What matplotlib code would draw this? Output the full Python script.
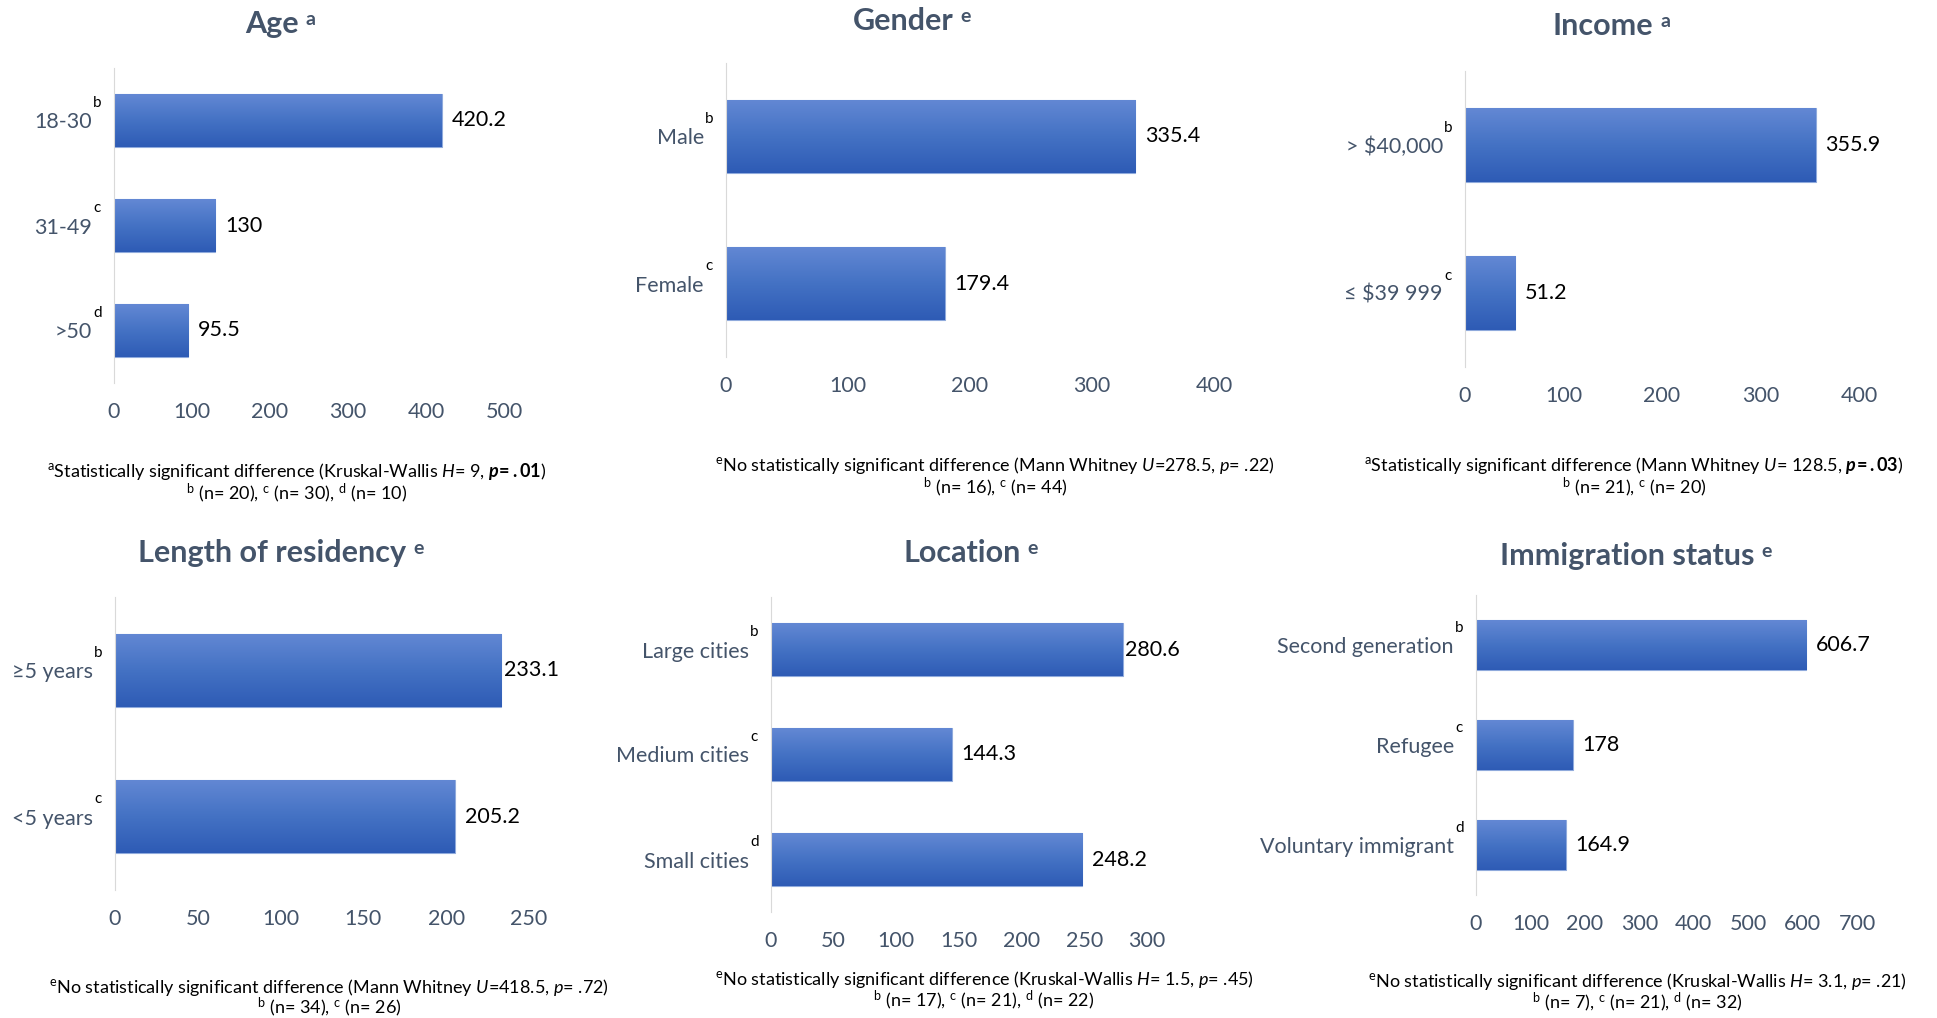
import numpy as np
import matplotlib.pyplot as plt
import matplotlib.transforms as mtransforms
from matplotlib.colors import LinearSegmentedColormap

plt.rcParams['font.family'] = 'Lato'
plt.rcParams['mathtext.fontset'] = 'custom'
plt.rcParams['mathtext.rm'] = 'Lato'
plt.rcParams['mathtext.it'] = 'Lato:italic'
plt.rcParams['mathtext.bf'] = 'Lato:bold'
plt.rcParams['mathtext.bfit'] = 'Lato:italic:bold'

# Donnees par variable
age_labels = ['18-30', '31-49', '>50']
age_sups = ['b', 'c', 'd']
age_values = [420.2, 130, 95.5]

gender_labels = ['Male', 'Female']
gender_sups = ['b', 'c']
gender_values = [335.4, 179.4]

income_labels = ['> $40,000', '≤ $39 999']
income_sups = ['b', 'c']
income_values = [355.9, 51.2]

residency_labels = ['≥5 years', '<5 years']
residency_sups = ['b', 'c']
residency_values = [233.1, 205.2]

location_labels = ['Large cities', 'Medium cities', 'Small cities']
location_sups = ['b', 'c', 'd']
location_values = [280.6, 144.3, 248.2]

status_labels = ['Second generation', 'Refugee', 'Voluntary immigrant']
status_sups = ['b', 'c', 'd']
status_values = [606.7, 178, 164.9]

W, H = 1937, 1018
fig = plt.figure(figsize=(W / 100, H / 100), dpi=100)

SLATE = '#44546A'
grad_cmap = LinearSegmentedColormap.from_list('barre', ['#6388D4', '#4472C4', '#2E5BB5'])
grad = np.linspace(0, 1, 256).reshape(-1, 1)

# (titre, exposant, labels, exposants, valeurs, xmax, pas, boite px, centre titre, notes)
panels = [
    ('Age', 'a', age_labels, age_sups, age_values, 500, 100,
     (114, 68, 504, 383), (272, 33),
     (297, 472, 493,
      r'$^{\mathrm{a}}$Statistically significant difference (Kruskal-Wallis $H$= 9, $\mathbfit{p}\!\mathbf{=.01}$)',
      r'$^{\mathrm{b}}$ (n= 20), $^{\mathrm{c}}$ (n= 30), $^{\mathrm{d}}$ (n= 10)')),
    ('Gender', 'e', gender_labels, gender_sups, gender_values, 400, 100,
     (726, 63, 1214, 357), (903, 30),
     (995, 466, 487,
      r'$^{\mathrm{e}}$No statistically significant difference (Mann Whitney $U$=278.5, $p$= .22)',
      r'$^{\mathrm{b}}$ (n= 16), $^{\mathrm{c}}$ (n= 44)')),
    ('Income', 'a', income_labels, income_sups, income_values, 400, 100,
     (1465, 71, 1859, 367), (1603, 35),
     (1634, 466, 487,
      r'$^{\mathrm{a}}$Statistically significant difference (Mann Whitney $U$= 128.5, $\mathbfit{p}\!\mathbf{=.03}$)',
      r'$^{\mathrm{b}}$ (n= 21), $^{\mathrm{c}}$ (n= 20)')),
    ('Length of residency', 'e', residency_labels, residency_sups, residency_values, 250, 50,
     (115, 597, 529, 890), (272, 562),
     (329, 987, 1007,
      r'$^{\mathrm{e}}$No statistically significant difference (Mann Whitney $U$=418.5, $p$= .72)',
      r'$^{\mathrm{b}}$ (n= 34), $^{\mathrm{c}}$ (n= 26)')),
    ('Location', 'e', location_labels, location_sups, location_values, 300, 50,
     (771, 597, 1147, 912), (962, 562),
     (984, 980, 1000,
      r'$^{\mathrm{e}}$No statistically significant difference (Kruskal-Wallis $H$= 1.5, $p$= .45)',
      r'$^{\mathrm{b}}$ (n= 17), $^{\mathrm{c}}$ (n= 21), $^{\mathrm{d}}$ (n= 22)')),
    ('Immigration status', 'e', status_labels, status_sups, status_values, 700, 100,
     (1476, 595, 1857, 895), (1627, 565),
     (1637, 982, 1002,
      r'$^{\mathrm{e}}$No statistically significant difference (Kruskal-Wallis $H$= 3.1, $p$= .21)',
      r'$^{\mathrm{b}}$ (n= 7), $^{\mathrm{c}}$ (n= 21), $^{\mathrm{d}}$ (n= 32)')),
]

for title, tsup, labels, sups, values, xmax, step, box, tpos, notes in panels:
    l, t, r, b = box
    ax = fig.add_axes([l / W, 1 - b / H, (r - l) / W, (b - t) / H])
    y = np.arange(len(values))
    bars = ax.barh(y, values, height=0.5, color='#4472C4', edgecolor='#8FAADC', linewidth=0.8, zorder=2)

    # degrade vertical dans chaque barre
    for rect, v, yi in zip(bars, values, y):
        im = ax.imshow(grad, cmap=grad_cmap, aspect='auto', origin='upper',
                       extent=[0, v, yi + 0.25, yi - 0.25], zorder=2.5)
        im.set_clip_path(rect)

    ax.set_xlim(0, xmax)
    ax.set_ylim(len(values) - 0.5, -0.5)
    ax.set_xticks(np.arange(0, xmax + step, step))
    ax.set_yticks(y)
    ax.set_yticklabels(labels)
    ax.tick_params(length=0, labelsize=15.5, labelcolor=SLATE)
    ax.tick_params(axis='x', pad=14)
    ax.tick_params(axis='y', pad=16)
    for side in ['top', 'right', 'bottom']:
        ax.spines[side].set_visible(False)
    ax.spines['left'].set_color('#D9D9D9')

    # exposants des categories
    trans = mtransforms.blended_transform_factory(ax.transAxes, ax.transData)
    for yi, s in zip(y, sups):
        ax.annotate(s, xy=(0, yi), xycoords=trans, xytext=(-12, 12.5), textcoords='offset points',
                    ha='center', va='center', fontsize=11, color='black')

    # etiquettes de valeur
    for v, yi in zip(values, y):
        gap = 2 if v / xmax > 0.9 else 7
        ax.annotate(f'{v:g}', xy=(v, yi), xytext=(gap, 0), textcoords='offset points',
                    ha='left', va='center', fontsize=15.5, color='black')

    tt = fig.text(tpos[0] / W, 1 - tpos[1] / H, title, ha='center', va='baseline',
                  fontsize=22, fontweight='bold', color=SLATE)
    ax.annotate(tsup, xy=(1, 1), xycoords=tt, xytext=(5, -1), textcoords='offset points',
                ha='left', va='top', fontsize=14, fontweight='bold', color=SLATE,
                annotation_clip=False)

    cx, y1, y2, line1, line2 = notes
    fig.text(cx / W, 1 - y1 / H, line1, ha='center', va='center', fontsize=13, color='black')
    fig.text(cx / W, 1 - y2 / H, line2, ha='center', va='center', fontsize=13, color='black')

fig.savefig('out.png', dpi=100, facecolor='white')
